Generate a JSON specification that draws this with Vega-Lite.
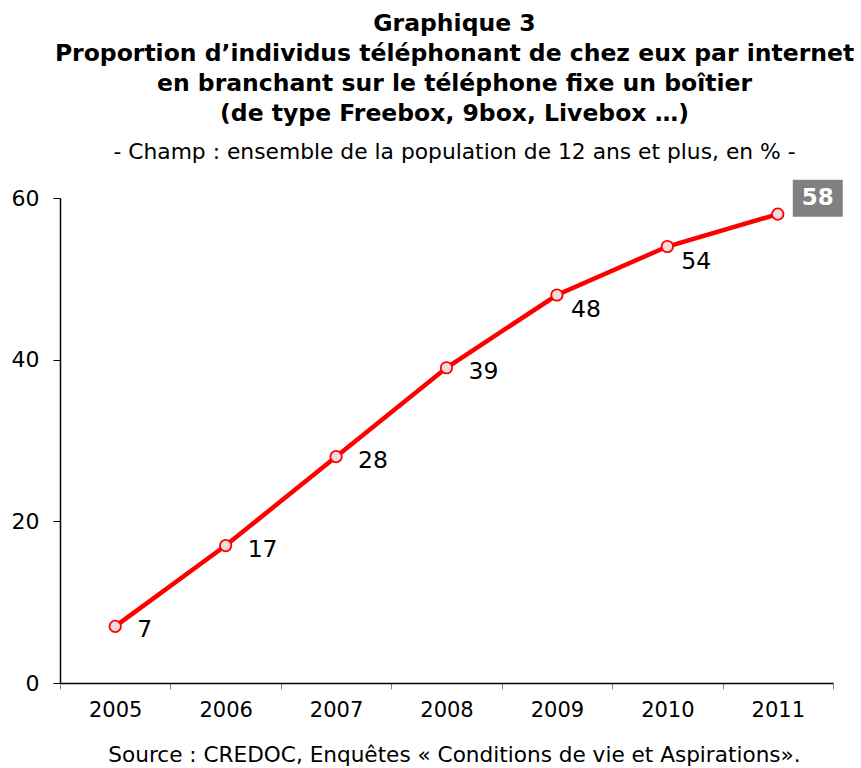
{
  "$schema": "https://vega.github.io/schema/vega-lite/v6.json",
  "autosize": {"type": "none"},
  "padding": {"left": 60, "top": 198, "right": 28, "bottom": 85},
  "width": 773,
  "height": 485,
  "background": "white",
  "config": {"view": {"stroke": null}, "font": "DejaVu Sans"},
  "title": {
    "text": ["Graphique 3", "Proportion d’individus téléphonant de chez eux par internet", "en branchant sur le téléphone fixe un boîtier", "(de type Freebox, 9box, Livebox …)"],
    "subtitle": "- Champ : ensemble de la population de 12 ans et plus, en % -",
    "font": "DejaVu Sans",
    "fontSize": 23.5,
    "fontWeight": "bold",
    "lineHeight": 30,
    "subtitleFont": "DejaVu Sans",
    "subtitleFontSize": 21.8,
    "subtitlePadding": 16,
    "subtitleColor": "black",
    "color": "black",
    "anchor": "middle",
    "dx": 8,
    "offset": 16
  },
  "data": {"values": [
    {"year": "2005", "value": 7},
    {"year": "2006", "value": 17},
    {"year": "2007", "value": 28},
    {"year": "2008", "value": 39},
    {"year": "2009", "value": 48},
    {"year": "2010", "value": 54},
    {"year": "2011", "value": 58}
  ]},
  "encoding": {
    "x": {
      "field": "year", "type": "ordinal",
      "scale": {"type": "band", "paddingInner": 0, "paddingOuter": 0},
      "axis": {
        "title": "Source : CREDOC, Enquêtes « Conditions de vie et Aspirations».",
        "titleFont": "DejaVu Sans", "titleFontSize": 21.6, "titleFontWeight": "normal", "titleColor": "black",
        "titlePadding": 24, "titleX": 394, "titleAlign": "center",
        "labelAngle": 0, "labelFont": "DejaVu Sans", "labelFontSize": 21, "labelColor": "black", "labelPadding": 10,
        "tickBand": "extent", "tickSize": 6, "tickColor": "#888888",
        "domainColor": "black", "domainWidth": 1.5, "grid": false
      }
    },
    "y": {
      "field": "value", "type": "quantitative",
      "scale": {"domain": [0, 60], "nice": false},
      "axis": {
        "title": null, "values": [0, 20, 40, 60],
        "labelFont": "DejaVu Sans", "labelFontSize": 22, "labelColor": "black", "labelPadding": 14,
        "tickSize": 7, "tickColor": "black", "domainColor": "black", "domainWidth": 1.5, "grid": false
      }
    }
  },
  "layer": [
    {"mark": {"type": "line", "color": "#ff0000", "strokeWidth": 4.5}},
    {"mark": {"type": "point", "shape": "circle", "filled": true, "fill": "#f2dcdc", "stroke": "#ff0000", "strokeWidth": 1.8, "size": 130, "opacity": 1}},
    {
      "transform": [{"filter": "datum.value < 40"}],
      "mark": {"type": "text", "align": "left", "baseline": "middle", "dx": 22, "dy": 4, "fontSize": 23.5, "font": "DejaVu Sans", "color": "black"},
      "encoding": {"text": {"field": "value", "type": "quantitative"}}
    },
    {
      "transform": [{"filter": "datum.value > 40 && datum.year != '2011'"}],
      "mark": {"type": "text", "align": "left", "baseline": "middle", "dx": 14, "dy": 15, "fontSize": 23.5, "font": "DejaVu Sans", "color": "black"},
      "encoding": {"text": {"field": "value", "type": "quantitative"}}
    },
    {
      "transform": [{"filter": "datum.year == '2011'"}],
      "mark": {"type": "point", "shape": "M-1.35,-1H1.35V1H-1.35Z", "filled": true, "fill": "#808080", "stroke": null, "size": 1369, "opacity": 1, "xOffset": 40, "yOffset": -16}
    },
    {
      "transform": [{"filter": "datum.year == '2011'"}],
      "mark": {"type": "text", "align": "center", "baseline": "middle", "dx": 40, "dy": -16, "fontSize": 23, "fontWeight": "bold", "font": "DejaVu Sans", "color": "white"},
      "encoding": {"text": {"field": "value", "type": "quantitative"}}
    }
  ]
}
